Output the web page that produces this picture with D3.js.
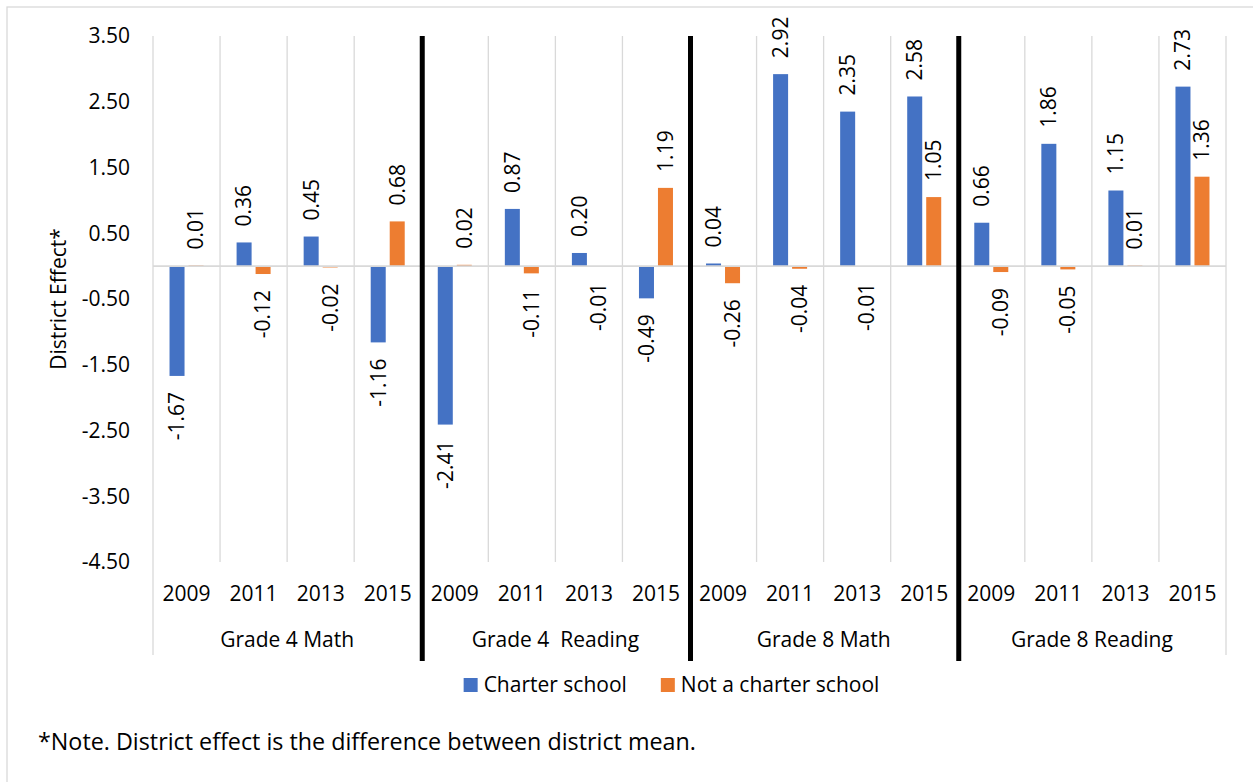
<!DOCTYPE html>
<html>
<head>
<meta charset="utf-8">
<script src="https://cdn.jsdelivr.net/npm/d3@7"></script>
<style>
  html, body { margin: 0; padding: 0; background: #fff; }
  svg { display: block; font-family: "Open Sans", sans-serif; }
  text { fill: #000; }
</style>
</head>
<body>
<svg id="chart" width="1253" height="782"></svg>
<script>
// Subject/grade groups and assessment years (two-level category axis)
const groups = ["Grade 4 Math", "Grade 4  Reading", "Grade 8 Math", "Grade 8 Reading"];
const years = ["2009", "2011", "2013", "2015"];
const seriesNames = ["Charter school", "Not a charter school"];
const seriesColors = ["#4472C4", "#ED7D31"];

// District effect per group/year, in group order then year order
const charterValues = [-1.67, 0.36, 0.45, -1.16, -2.41, 0.87, 0.20, -0.49, 0.04, 2.92, 2.35, 2.58, 0.66, 1.86, 1.15, 2.73];
const notCharterValues = [0.01, -0.12, -0.02, 0.68, 0.02, -0.11, -0.01, 1.19, -0.26, -0.04, -0.01, 1.05, -0.09, -0.05, 0.01, 1.36];

const yTicks = [3.5, 2.5, 1.5, 0.5, -0.5, -1.5, -2.5, -3.5, -4.5];
const yTitle = "District Effect*";
const note = "*Note. District effect is the difference between district mean.";

const FONT = 21;
const NOTE_FONT = 23.3;
const GRID = "#d9d9d9";

const svg = d3.select("#chart");
const W = 1253, H = 782;
const plot = { left: 153, right: 1226, top: 36, bottom: 562 };

// Outer chart frame
svg.append("rect").attr("x", 7).attr("y", 7).attr("width", W + 20).attr("height", H + 20)
  .attr("fill", "#fff").attr("stroke", GRID).attr("stroke-width", 1.3);

// Flattened categories: one per group/year pair
const cats = [];
groups.forEach((g, gi) => years.forEach((yr, yi) => cats.push({ group: g, gi, year: yr, idx: gi * years.length + yi })));
const rows = cats.map(c => ({ ...c, values: [charterValues[c.idx], notCharterValues[c.idx]] }));

const x0 = d3.scaleBand().domain(cats.map(c => c.idx)).range([plot.left, plot.right]).padding(0);
const x1 = d3.scaleBand().domain(seriesNames).range([0, x0.bandwidth()])
  .paddingInner(0.21).paddingOuter(0.87);
const y = d3.scaleLinear().domain([-4.5, 3.5]).range([plot.bottom, plot.top]);

// Category separator lines; group boundaries run down through the label rows
const boundaries = d3.range(cats.length + 1);
svg.append("g").selectAll("line").data(boundaries).join("line")
  .attr("x1", i => plot.left + i * x0.step())
  .attr("x2", i => plot.left + i * x0.step())
  .attr("y1", plot.top)
  .attr("y2", i => (i % years.length === 0) ? 655 : plot.bottom)
  .attr("stroke", GRID).attr("stroke-width", 1.3);

// Y tick labels
svg.append("g").selectAll("text").data(yTicks).join("text")
  .attr("x", 130).attr("y", d => y(d)).attr("dy", "0.35em")
  .attr("text-anchor", "end").attr("font-size", FONT)
  .text(d => d.toFixed(2));

// Y axis title
svg.append("text")
  .attr("transform", `translate(66,${(plot.top + plot.bottom) / 2}) rotate(-90)`)
  .attr("text-anchor", "middle").attr("font-size", FONT)
  .text(yTitle);

// Bars
const barGroups = svg.append("g").selectAll("g").data(rows).join("g")
  .attr("transform", d => `translate(${x0(d.idx)},0)`);
barGroups.selectAll("rect").data(d => d.values.map((v, si) => ({ v, si })))
  .join("rect")
  .attr("x", d => x1(seriesNames[d.si]))
  .attr("width", x1.bandwidth())
  .attr("y", d => y(Math.max(0, d.v)))
  .attr("height", d => Math.abs(y(d.v) - y(0)))
  .attr("fill", d => seriesColors[d.si]);

// Horizontal axis at zero
svg.append("line")
  .attr("x1", plot.left).attr("x2", plot.right)
  .attr("y1", y(0)).attr("y2", y(0))
  .attr("stroke", GRID).attr("stroke-width", 1.6);

// Data labels, rotated, outside the bar end
const GAP = 16;
barGroups.selectAll("text").data(d => d.values.map((v, si) => ({ v, si })))
  .join("text")
  .attr("transform", d => {
    const cx = x1(seriesNames[d.si]) + x1.bandwidth() / 2;
    const cy = d.v >= 0 ? y(d.v) - GAP : y(d.v) + GAP;
    return `translate(${cx},${cy}) rotate(-90)`;
  })
  .attr("dy", "0.35em")
  .attr("text-anchor", d => d.v >= 0 ? "start" : "end")
  .attr("font-size", FONT)
  .text(d => d.v.toFixed(2));

// Year labels
svg.append("g").selectAll("text").data(cats).join("text")
  .attr("x", d => x0(d.idx) + x0.bandwidth() / 2)
  .attr("y", 601)
  .attr("text-anchor", "middle").attr("font-size", FONT)
  .text(d => d.year);

// Group labels
svg.append("g").selectAll("text").data(groups).join("text")
  .attr("x", (g, gi) => plot.left + (gi + 0.5) * years.length * x0.step())
  .attr("y", 647)
  .attr("text-anchor", "middle").attr("font-size", FONT)
  .style("white-space", "pre")
  .text(g => g);

// Heavy dividers between subject groups
svg.append("g").selectAll("line").data(d3.range(1, groups.length)).join("line")
  .attr("x1", gi => plot.left + gi * years.length * x0.step() + 1)
  .attr("x2", gi => plot.left + gi * years.length * x0.step() + 1)
  .attr("y1", 36).attr("y2", 661)
  .attr("stroke", "#000").attr("stroke-width", 5);

// Legend, centred below the axis labels
const legend = svg.append("g");
const items = legend.selectAll("g").data(seriesNames).join("g");
items.append("rect").attr("width", 14).attr("height", 14).attr("y", 678)
  .attr("fill", (d, i) => seriesColors[i]);
items.append("text").attr("x", 20).attr("y", 692).attr("font-size", FONT).text(d => d);
let cursor = 0;
const offsets = [];
items.each(function (d, i) {
  offsets.push(cursor);
  cursor += 20 + this.querySelector("text").getComputedTextLength() + (i < seriesNames.length - 1 ? 34 : 0);
});
const legendStart = 671.5 - cursor / 2;
items.attr("transform", (d, i) => `translate(${legendStart + offsets[i]},0)`);

// Footnote
svg.append("text").attr("x", 38).attr("y", 750).attr("font-size", NOTE_FONT).text(note);
</script>
</body>
</html>
